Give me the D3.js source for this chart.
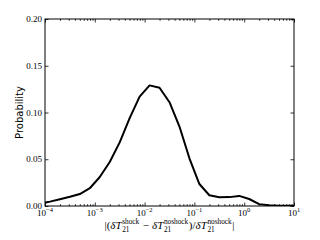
<!DOCTYPE html>
<html><head><meta charset="utf-8">
<script src="https://cdn.jsdelivr.net/npm/d3@7"></script>
<style>
html,body{margin:0;padding:0;background:#fff;}
svg{display:block;}
.tl{font-family:"Liberation Serif","DejaVu Serif",serif;font-size:9px;fill:#000;}
.m{font-family:"Liberation Serif","DejaVu Serif",serif;fill:#000;}
</style>
</head><body>
<svg id="c" width="320" height="240"></svg>
<script>
// bin centres (log10 of relative difference)
const binExp = [-4.1,-3.9,-3.7,-3.5,-3.3,-3.1,-2.9,-2.7,-2.5,-2.3,-2.1,-1.9,-1.7,-1.5,-1.3,-1.1,-0.9,-0.7,-0.5,-0.3,-0.1,0.1,0.3,0.5,0.7,0.9,1.1];
const probability = [0.0025,0.0047,0.0072,0.0098,0.0128,0.019,0.031,0.047,0.068,0.094,0.117,0.129,0.1265,0.111,0.085,0.051,0.0235,0.0115,0.0093,0.0095,0.0108,0.0075,0.002,0.0008,0.0004,0.0002,0.0001];
const xMajorExp = [-4,-3,-2,-1,0,1];
const yTicks = [0.00,0.05,0.10,0.15,0.20];
const yTickLabels = ["0.00","0.05","0.10","0.15","0.20"];
const yLabel = "Probability";

const L=45, R=294, T=19, B=206;
const svg = d3.select("#c");
const x = d3.scaleLog().domain([1e-4,1e1]).range([L,R]);
const y = d3.scaleLinear().domain([0,0.2]).range([B,T]);

const majors = xMajorExp.map(e=>Math.pow(10,e));
const minors = [];
xMajorExp.slice(0,-1).forEach(e=>{for(let k=2;k<10;k++) minors.push(k*Math.pow(10,e));});

svg.append("defs").append("clipPath").attr("id","clip")
  .append("rect").attr("x",L).attr("y",T).attr("width",R-L).attr("height",B-T);

function styleAxis(g){ g.select(".domain").remove(); g.selectAll("line").attr("stroke","#000").attr("stroke-width",0.8); g.selectAll("text").remove(); }

svg.append("g").attr("transform",`translate(0,${B})`).call(d3.axisBottom(x).tickValues(majors).tickSize(-3.5).tickFormat("")).call(styleAxis);
svg.append("g").attr("transform",`translate(0,${B})`).call(d3.axisBottom(x).tickValues(minors).tickSize(-1.8).tickFormat("")).call(styleAxis);
svg.append("g").attr("transform",`translate(0,${T})`).call(d3.axisTop(x).tickValues(majors).tickSize(-3.5).tickFormat("")).call(styleAxis);
svg.append("g").attr("transform",`translate(0,${T})`).call(d3.axisTop(x).tickValues(minors).tickSize(-1.8).tickFormat("")).call(styleAxis);
svg.append("g").attr("transform",`translate(${L},0)`).call(d3.axisLeft(y).tickValues(yTicks).tickSize(-3.5).tickFormat("")).call(styleAxis);
svg.append("g").attr("transform",`translate(${R},0)`).call(d3.axisRight(y).tickValues(yTicks).tickSize(-3.5).tickFormat("")).call(styleAxis);

// frame
svg.append("rect").attr("x",L).attr("y",T).attr("width",R-L).attr("height",B-T)
  .attr("fill","none").attr("stroke","#000").attr("stroke-width",1);

// y tick labels
yTicks.forEach((v,i)=>{
  svg.append("text").attr("class","tl").attr("x",L-3).attr("y",y(v)+3)
    .attr("text-anchor","end").text(yTickLabels[i]);
});
// x tick labels
xMajorExp.forEach(e=>{
  const t = svg.append("text").attr("class","tl").attr("x",x(Math.pow(10,e))).attr("y",B+10).attr("text-anchor","middle");
  t.append("tspan").text("10");
  t.append("tspan").attr("dy",-4).attr("font-size","6.5px").text(e<0?"\u2212"+(-e):String(e));
});

// y label
svg.append("text").attr("transform",`translate(23,${(T+B)/2}) rotate(-90)`)
  .attr("text-anchor","middle").attr("font-family","DejaVu Sans, sans-serif").attr("font-size","10px").text(yLabel);

// x label (math), laid out piece by piece
const xg = svg.append("g");
const base = 229;
const fs = 11;
let cx = 0;
function put(txt, size, dy, italic){
  const t = xg.append("text").attr("class","m").attr("x",cx).attr("y",base+dy)
    .attr("font-size",size+"px").attr("font-style",italic?"italic":"normal").text(txt);
  return t.node().getComputedTextLength();
}
function term(sup){
  cx += put("\u03B4T",fs,0,true) + 0.6;
  const w1 = put(sup,7.3,-5,false);
  const w2 = put("21",7.3,3,false);
  cx += Math.max(w1,w2) + 0.6;
}
cx += put("|(",fs,0,false);
term("shock");
cx += 3;
cx += put("\u2212",fs,0,false);
cx += 3;
term("noshock");
cx += put(")/",fs,0,false);
term("noshock");
cx += put("|",fs,0,false);
xg.attr("transform",`translate(${(L+R)/2 - cx/2},0)`);

// curve
const line = d3.line().x((d,i)=>x(Math.pow(10,binExp[i]))).y(d=>y(d));
svg.append("path").datum(probability).attr("clip-path","url(#clip)")
  .attr("d",line).attr("fill","none").attr("stroke","#000").attr("stroke-width",2).attr("stroke-linejoin","round");
</script>
</body></html>
